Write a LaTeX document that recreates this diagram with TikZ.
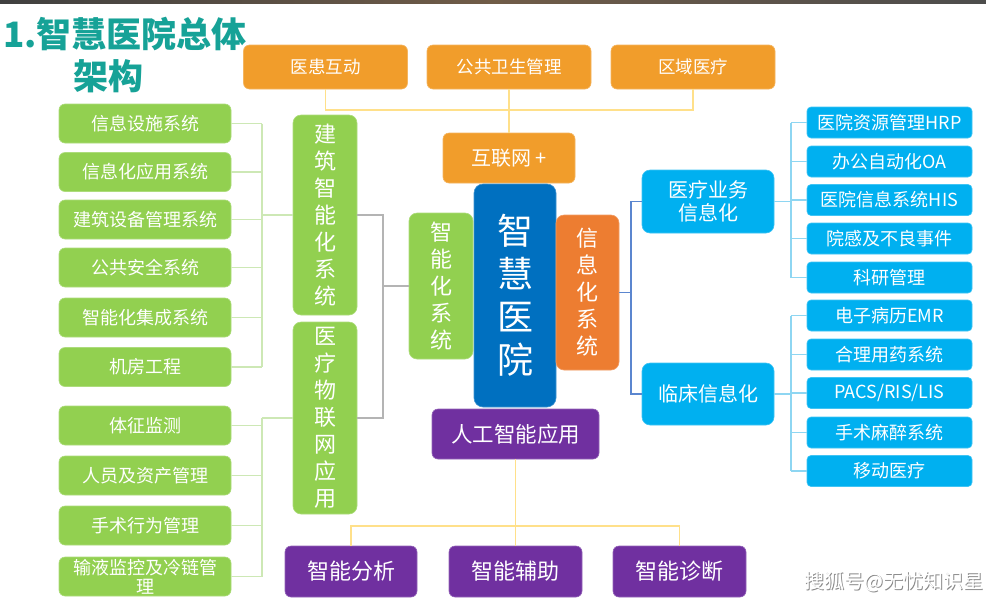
\documentclass[tikz,border=0pt]{standalone}
\usepackage{fontspec}
\setmainfont{Noto Sans CJK SC}
\definecolor{cOra}{HTML}{F19D2B}
\definecolor{cGrn}{HTML}{92D050}
\definecolor{cBlu}{HTML}{0070C0}
\definecolor{cOr2}{HTML}{ED7D31}
\definecolor{cSky}{HTML}{00B0F0}
\definecolor{cPur}{HTML}{7030A0}
\definecolor{cTeal}{HTML}{16A297}
\definecolor{lnY}{HTML}{FFE08A}
\definecolor{lnG}{HTML}{CDE8B5}
\definecolor{lnGr}{HTML}{B4B4B4}
\definecolor{lnB}{HTML}{5B86CF}
\definecolor{lnS}{HTML}{8ED6F2}
\tikzset{
  box/.style={rounded corners=6pt, text=white, inner sep=0pt, align=center, line width=0.6pt},
  ora/.style={box, fill=cOra, draw=cOra!75!white},
  grn/.style={box, fill=cGrn, draw=cGrn!75!white},
  blu/.style={box, fill=cBlu, draw=cBlu!75!white, rounded corners=9pt},
  or2/.style={box, fill=cOr2, draw=cOr2!75!white, rounded corners=8pt},
  sky/.style={box, fill=cSky, draw=cSky!75!white},
  pur/.style={box, fill=cPur, draw=cPur!75!white},
  fA/.style={font=\fontsize{18}{22}\selectfont},
  fV/.style={font=\fontsize{22}{27}\selectfont},
  lbox/.style={grn, fA, minimum width=172pt, minimum height=39pt},
  rbox/.style={sky, fA, minimum width=165pt, minimum height=31pt, rounded corners=4pt},
  tbox/.style={ora, font=\fontsize{17.5}{21}\selectfont, minimum width=164pt, minimum height=44pt},
  pbox/.style={pur, font=\fontsize{22}{26}\selectfont, minimum width=133pt, minimum height=51pt},
  cY/.style={draw=lnY, line width=1.2pt},
  cG/.style={draw=lnG, line width=1.2pt},
  cGr/.style={draw=lnGr, line width=1.4pt},
  cB/.style={draw=lnB, line width=1.3pt},
  cS/.style={draw=lnS, line width=1.2pt},
}
\begin{document}
\begin{tikzpicture}[x=1pt,y=-1pt]
\useasboundingbox (0,0) rectangle (986,598);
\fill[white] (0,0) rectangle (986,598);
\fill[left color=black!75, right color=black!70, middle color=brown!40!black!80] (0,0) rectangle (986,3);

% title
\node[anchor=base west, inner sep=0pt, text=cTeal, font=\fontsize{35}{40}\selectfont\bfseries] (t1) at (3,47) {1.智慧医院总体};
\node[anchor=base, inner sep=0pt, text=cTeal, font=\fontsize{35}{40}\selectfont\bfseries] (t2) at (108,89) {架构};

% bus coordinates
\coordinate (busT) at (0,110);
\coordinate (busL) at (262,0);
\coordinate (busG) at (383,0);
\coordinate (busB) at (631,0);
\coordinate (busR) at (791,0);
\coordinate (busP) at (0,526);

% top
\node[tbox] (ha) at (325.5,67) {医患互动};
\node[tbox] (gw) at (509,67) {公共卫生管理};
\node[tbox] (qy) at (693,67) {区域医疗};
\node[ora, font=\fontsize{20}{24}\selectfont, minimum width=132pt, minimum height=50pt] (hlw) at (509,158) {互联网\,+};

% center
\node[blu, font=\fontsize{36}{43}\selectfont, minimum width=82pt, minimum height=223pt] (zh) at (515,295.5) {智\\慧\\医\\院};
\node[grn, fV, minimum width=64pt, minimum height=146pt, rounded corners=8pt] (znh) at (441,286) {智\\能\\化\\系\\统};
\node[or2, fV, minimum width=63pt, minimum height=155pt] (xxh) at (587.5,292.5) {信\\息\\化\\系\\统};
\node[pur, font=\fontsize{21.5}{26}\selectfont, minimum width=167pt, minimum height=50pt] (rg) at (515.5,434) {人工智能应用};

% left middle
\node[grn, fV, minimum width=64pt, minimum height=200pt, rounded corners=8pt] (jz) at (325,215) {建\\筑\\智\\能\\化\\系\\统};
\node[grn, fV, minimum width=64pt, minimum height=192pt, rounded corners=8pt] (yl) at (325,418) {医\\疗\\物\\联\\网\\应\\用};

% left column
\node[lbox] (l1) at (145,123.5) {信息设施系统};
\node[lbox] (l2) at (145,172) {信息化应用系统};
\node[lbox] (l3) at (145,219.5) {建筑设备管理系统};
\node[lbox] (l4) at (145,267.5) {公共安全系统};
\node[lbox] (l5) at (145,317.5) {智能化集成系统};
\node[lbox] (l6) at (145,367) {机房工程};
\node[lbox] (b1) at (145,425.5) {体征监测};
\node[lbox] (b2) at (145,475.5) {人员及资产管理};
\node[lbox] (b3) at (145,525.5) {手术行为管理};
\node[lbox, font=\fontsize{18}{19}\selectfont] (b4) at (145,576.5) {输液监控及冷链管\\理};

% right
\node[sky, font=\fontsize{20}{23}\selectfont, minimum width=132pt, minimum height=63pt, rounded corners=8pt] (yw) at (708,201.5) {医疗业务\\信息化};
\node[sky, font=\fontsize{20}{23}\selectfont, minimum width=132pt, minimum height=62pt, rounded corners=8pt] (lc) at (708,394) {临床信息化};
\node[rbox] (r1) at (889.5,122.5) {医院资源管理HRP};
\node[rbox] (r2) at (889.5,161.5) {办公自动化OA};
\node[rbox] (r3) at (889.5,200) {医院信息系统HIS};
\node[rbox] (r4) at (889.5,238.5) {院感及不良事件};
\node[rbox] (r5) at (889.5,277.5) {科研管理};
\node[rbox] (r6) at (889.5,315.5) {电子病历EMR};
\node[rbox] (r7) at (889.5,354.5) {合理用药系统};
\node[rbox] (r8) at (889.5,393) {PACS/RIS/LIS};
\node[rbox] (r9) at (889.5,432.5) {手术麻醉系统};
\node[rbox] (r10) at (889.5,471) {移动医疗};

% bottom
\node[pbox, minimum width=132pt] (a1) at (351,571.5) {智能分析};
\node[pbox] (a2) at (515.5,571.5) {智能辅助};
\node[pbox] (a3) at (679.5,571.5) {智能诊断};

% connectors top
\draw[cY] (ha.south) -- (ha.south |- busT) -- (qy.south |- busT) -- (qy.south);
\draw[cY] (gw.south) -- (hlw.north);
% connectors bottom
\draw[cY] (rg.south) -- (rg.south |- busP);
\draw[cY] (a1.north) -- (a1.north |- busP) -- (a3.north |- busP) -- (a3.north);
\draw[cY] (a2.north) -- (a2.north |- busP);
% left green
\foreach \n in {l1,l2,l3,l4,l5,l6,b1,b2,b3,b4}{\draw[cG] (\n.east) -- (\n.east -| busL);}
\draw[cG] (l1.east -| busL) -- (l6.east -| busL);
\draw[cG] (jz.west) -- (jz.west -| busL);
\draw[cG] (yl.west -| busL) -- (b4.east -| busL);
\draw[cG] (yl.west) -- (yl.west -| busL);
% gray
\draw[cGr] (jz.east) -- (jz.east -| busG) -- (yl.east -| busG) -- (yl.east);
\draw[cGr] (znh.west -| busG) -- (znh.west);
% blue
\draw[cB] (xxh.east) -- (xxh.east -| busB);
\draw[cB] (yw.west) -- (yw.west -| busB) -- (lc.west -| busB) -- (lc.west);
% right sky
\foreach \n in {r1,r2,r3,r4,r5,r6,r7,r8,r9,r10}{\draw[cS] (\n.west) -- (\n.west -| busR);}
\draw[cS] (r1.west -| busR) -- (r5.west -| busR);
\draw[cS] (r6.west -| busR) -- (r10.west -| busR);
\draw[cS] (yw.east) -- (yw.east -| busR);
\draw[cS] (lc.east) -- (lc.east -| busR);

% watermark
\node[anchor=east, inner sep=0pt, text=black!45, font=\fontsize{20}{24}\selectfont] (wm0) at (985,583) {搜狐号@无忧知识星};
\node[anchor=east, inner sep=0pt, text=white, font=\fontsize{20}{24}\selectfont] (wm) at (984,582) {搜狐号@无忧知识星};
\end{tikzpicture}
\end{document}
